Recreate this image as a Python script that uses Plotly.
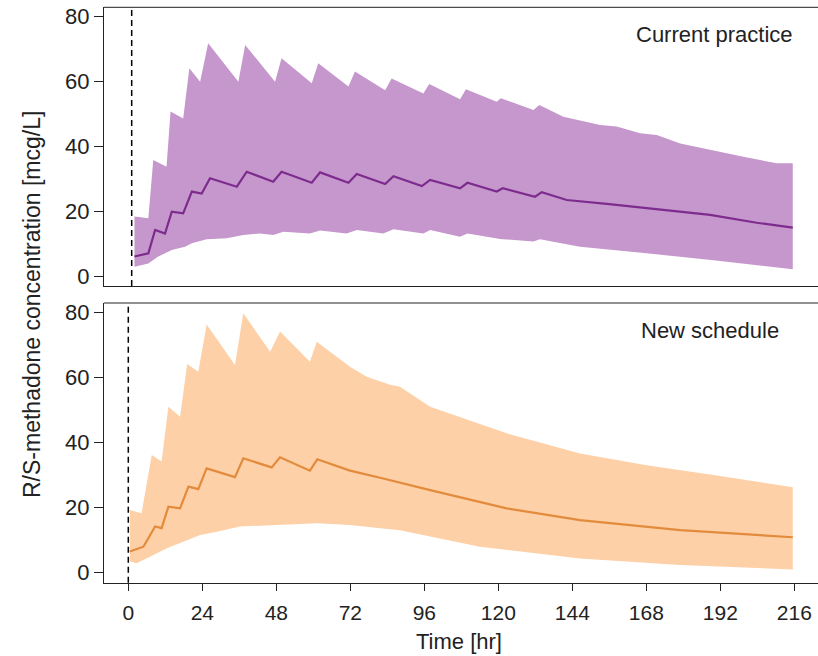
import plotly.graph_objects as go

# ---------------- data ----------------
# Current practice (top panel)
cp_upper_t = [2.0, 6.5, 8.1, 12.4, 13.7, 17.8, 19.8, 23.3, 25.9, 35.7, 37.9, 47.6, 49.7, 59.5, 61.6,
              71.4, 73.5, 83.3, 85.4, 95.7, 97.6, 107.6, 109.5, 119.5, 120.8, 131.4, 133.3, 141.1,
              153.0, 158.4, 166.0, 171.4, 179.0, 188.7, 199.5, 210.3, 215.5]
cp_upper = [18.5, 18.0, 35.9, 33.8, 50.8, 48.7, 64.1, 60.0, 71.8, 60.0, 71.3, 60.0, 67.2, 59.5, 65.7,
            58.5, 63.1, 57.4, 61.0, 56.4, 59.3, 54.6, 57.7, 53.8, 54.9, 51.3, 52.8, 49.2,
            46.7, 46.2, 44.1, 43.6, 41.0, 39.0, 36.9, 34.9, 34.9]
cp_lower_t = [2.0, 6.5, 9.7, 14.1, 18.4, 20.6, 25.4, 31.9, 37.3, 42.7, 47.0, 50.3, 58.9, 62.2, 70.8,
              74.1, 82.7, 86.0, 95.7, 97.9, 107.6, 110.0, 120.6, 131.4, 133.5, 146.5, 168.1, 189.8, 215.5]
cp_lower = [3.1, 4.1, 6.2, 8.2, 9.2, 10.3, 11.5, 11.8, 12.8, 13.3, 12.8, 13.8, 13.3, 14.2, 13.3,
            14.4, 13.3, 14.6, 13.3, 14.4, 12.3, 13.3, 11.6, 10.8, 11.5, 9.2, 7.2, 5.1, 2.3]
cp_median_t = [2.0, 6.5, 8.7, 11.9, 14.1, 17.8, 20.6, 23.8, 26.5, 35.2, 38.4, 47.0, 49.7, 59.5, 62.2,
               71.4, 74.1, 83.3, 86.0, 95.2, 97.9, 107.6, 110.0, 119.5, 121.4, 131.9, 134.1, 142.2,
               155.2, 171.4, 188.7, 203.8, 215.5]
cp_median = [6.2, 7.2, 14.4, 13.3, 20.0, 19.5, 26.2, 25.6, 30.3, 27.7, 32.3, 29.2, 32.3, 28.9, 32.1,
             28.9, 31.6, 28.5, 30.9, 27.9, 29.8, 27.2, 28.9, 26.2, 27.2, 24.6, 26.0, 23.6,
             22.4, 20.7, 19.0, 16.6, 15.1]

# New schedule (bottom panel)
ns_upper_t = [0.5, 4.3, 7.6, 10.8, 13.0, 16.8, 19.1, 22.7, 25.4, 34.6, 37.3, 46.0, 49.2, 58.9, 61.1,
              71.9, 77.3, 84.9, 88.1, 97.9, 122.7, 146.5, 168.1, 189.8, 215.5]
ns_upper = [19.3, 18.3, 36.2, 34.2, 51.1, 48.0, 64.2, 61.8, 76.4, 63.9, 79.8, 68.0, 74.2, 64.9, 71.1,
            63.4, 60.3, 57.8, 57.2, 51.1, 42.9, 36.7, 33.1, 30.1, 26.3]
ns_lower_t = [0.5, 2.7, 7.0, 12.5, 17.8, 23.3, 28.7, 36.2, 44.9, 61.1, 71.9, 81.7, 88.1, 114.0,
              146.5, 179.0, 215.5]
ns_lower = [3.5, 2.9, 4.9, 7.5, 9.5, 11.6, 12.6, 14.2, 14.7, 15.2, 14.7, 13.7, 13.1, 8.0,
            4.4, 2.4, 1.0]
ns_median_t = [0.5, 4.9, 8.7, 10.8, 13.0, 16.8, 19.5, 22.7, 25.4, 34.6, 37.3, 46.5, 49.2, 58.9, 61.3,
               71.9, 82.7, 97.9, 122.7, 146.5, 179.0, 215.5]
ns_median = [6.5, 8.0, 14.2, 13.7, 20.3, 19.8, 26.5, 25.7, 32.1, 29.4, 35.2, 32.4, 35.5, 31.4, 34.9,
             31.4, 29.0, 25.4, 19.8, 16.2, 13.1, 10.9]

panel_labels = ["Current practice", "New schedule"]
marker_times = [1.1, 0.0]  # dashed vertical reference lines (top, bottom)
x_ticks = [0, 24, 48, 72, 96, 120, 144, 168, 192, 216]
y_ticks = [0, 20, 40, 60, 80]

# ---------------- styling / layout ----------------
W, H = 818, 656
PLOT_LEFT = 104         # px of the plot area's left edge
L = PLOT_LEFT
PURPLE_FILL, PURPLE_LINE = "#C597CC", "#7D2C8E"
ORANGE_FILL, ORANGE_LINE = "#FDD0A7", "#E38B3C"
FONT = "Liberation Sans, Arial, sans-serif"
INK = "#222"
PX_PER_UNIT = 3.25

def py(px):
    """page y pixel -> paper y"""
    return min(1.0, max(0.0, 1 - px / H))

def pxx(px):
    """page x pixel -> paper x"""
    return (px - PLOT_LEFT) / (W - L)

# panel boxes in px: top 7.3..286 (zero at 276.7), bottom 303..582.7 (zero at 572.7)
top_dom = [py(286.0), py(7.3)]
bot_dom = [py(582.7), py(303.0)]
yr_top = [-(286.0 - 276.7) / PX_PER_UNIT, (276.7 - 7.3) / PX_PER_UNIT]
yr_bot = [-(582.7 - 572.7) / PX_PER_UNIT, (572.7 - 303.0) / PX_PER_UNIT]

PX_PER_HR = 74 / 24
xr = [-(128.3 - PLOT_LEFT) / PX_PER_HR, -(128.3 - PLOT_LEFT) / PX_PER_HR + (W - L) / PX_PER_HR]

fig = go.Figure()

def add_panel(ut, u, lt, lo, mt, m, fill, line, xa, ya):
    fig.add_trace(go.Scatter(
        x=list(ut) + list(reversed(lt)), y=list(u) + list(reversed(lo)),
        fill="toself", fillcolor=fill, line=dict(width=0), mode="lines",
        hoverinfo="skip", showlegend=False, xaxis=xa, yaxis=ya))
    fig.add_trace(go.Scatter(
        x=mt, y=m, mode="lines", line=dict(color=line, width=2.2),
        showlegend=False, xaxis=xa, yaxis=ya))

add_panel(cp_upper_t, cp_upper, cp_lower_t, cp_lower, cp_median_t, cp_median,
          PURPLE_FILL, PURPLE_LINE, "x2", "y2")
add_panel(ns_upper_t, ns_upper, ns_lower_t, ns_lower, ns_median_t, ns_median,
          ORANGE_FILL, ORANGE_LINE, "x", "y")

axis_common = dict(range=xr, showgrid=False, zeroline=False, showline=True,
                   linecolor=INK, linewidth=1)
yaxis_common = dict(showgrid=False, zeroline=False, showline=True,
                    linecolor=INK, linewidth=1, tickmode="array", tickvals=y_ticks,
                    ticks="outside", ticklen=9, tickcolor=INK, tickwidth=1,
                    ticklabeloverflow="allow",
                    tickfont=dict(family=FONT, size=22, color=INK))

fig.update_layout(
    width=W, height=H,
    margin=dict(l=L, r=0, t=0, b=0, autoexpand=False),
    paper_bgcolor="white", plot_bgcolor="white",
    xaxis=dict(domain=[0, 1], anchor="y", tickmode="array", tickvals=x_ticks,
               ticks="outside", ticklen=7, tickcolor=INK, tickwidth=1,
               ticklabeloverflow="allow",
               tickfont=dict(family=FONT, size=21, color=INK),
               ticklabelstandoff=4, **axis_common),
    xaxis2=dict(domain=[0, 1], anchor="y2", matches="x", showticklabels=False,
                ticks="", **axis_common),
    yaxis=dict(domain=bot_dom, anchor="x", range=yr_bot, **yaxis_common),
    yaxis2=dict(domain=top_dom, anchor="x2", range=yr_top, **yaxis_common),
    showlegend=False,
)

# top borders of both panels
for dom in (top_dom, bot_dom):
    fig.add_shape(type="line", xref="paper", yref="paper", x0=0, x1=1.02,
                  y0=dom[1], y1=dom[1], line=dict(color=INK, width=1))

# dashed reference lines
for t, (xa, ya) in zip(marker_times, [("x2", "y2"), ("x", "y")]):
    fig.add_shape(type="line", xref=xa, yref=ya + " domain", x0=t, x1=t, y0=0, y1=1,
                  line=dict(color="black", width=1.5, dash="6px,4px"))

# panel labels
fig.add_annotation(text=panel_labels[0], xref="paper", yref="paper",
                   x=pxx(795), y=py(34), xanchor="right", yanchor="middle",
                   showarrow=False, font=dict(family=FONT, size=22, color=INK))
fig.add_annotation(text=panel_labels[1], xref="paper", yref="paper",
                   x=pxx(781), y=py(331), xanchor="right", yanchor="middle",
                   showarrow=False, font=dict(family=FONT, size=22, color=INK))

# axis titles
fig.add_annotation(text="R/S-methadone concentration [mcg/L]", xref="paper", yref="paper",
                   x=pxx(32), y=py(305), textangle=-90,
                   xanchor="center", yanchor="middle", showarrow=False,
                   font=dict(family=FONT, size=23, color=INK))
fig.add_annotation(text="Time [hr]", xref="paper", yref="paper",
                   x=pxx(459), y=py(641), xanchor="center", yanchor="middle",
                   showarrow=False, font=dict(family=FONT, size=22, color=INK))

# remove the default 8px page margin so the figure fills the window exactly
fig.write_html("out.html",
               config={"displayModeBar": False, "staticPlot": True},
               post_script="document.body.style.margin='0';document.body.style.overflow='hidden';")
